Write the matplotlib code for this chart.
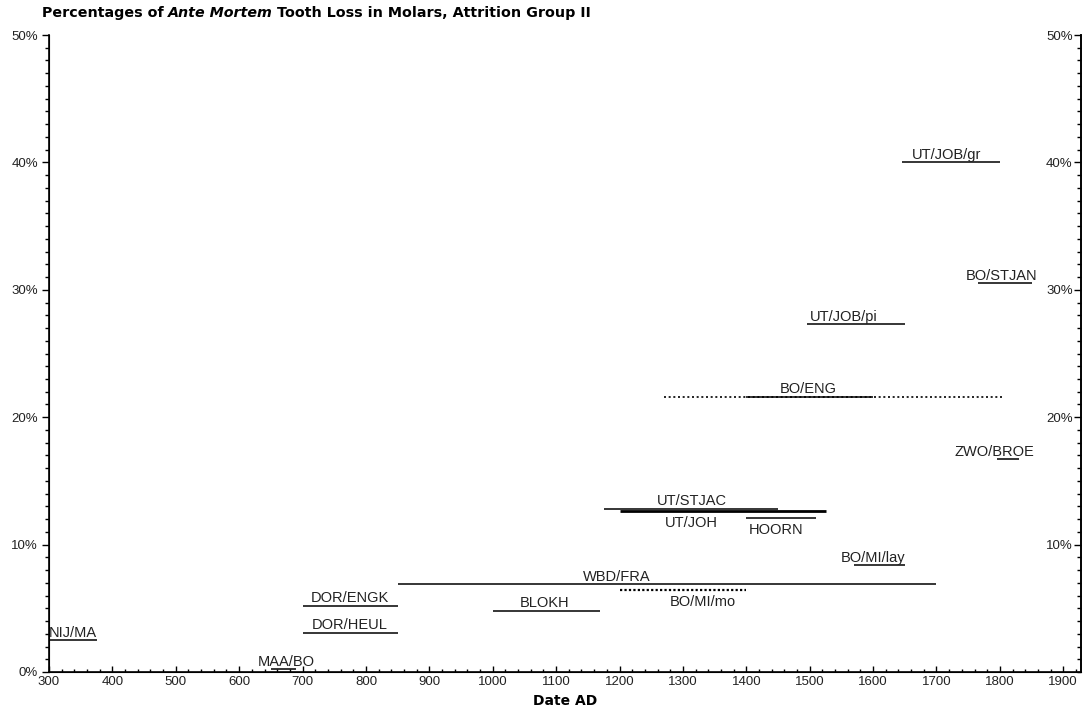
import matplotlib
matplotlib.use("Agg")
import matplotlib.pyplot as plt
from matplotlib.ticker import MultipleLocator, FixedLocator, FuncFormatter

# site samples: date range (AD) and percentage of ante mortem loss
sites = ["NIJ/MA", "MAA/BO", "DOR/HEUL", "DOR/ENGK", "BLOKH", "WBD/FRA",
         "BO/MI/mo", "BO/MI/lay", "HOORN", "UT/JOH", "UT/STJAC", "ZWO/BROE",
         "BO/ENG", "UT/JOB/pi", "BO/STJAN", "UT/JOB/gr"]
start = [300, 650, 700, 700, 1000, 850, 1200, 1570, 1400, 1200, 1175, 1795,
         1400, 1495, 1765, 1645]
end = [375, 690, 850, 850, 1170, 1700, 1400, 1650, 1510, 1525, 1450, 1830,
       1600, 1650, 1850, 1800]
pct = [2.5, 0.2, 3.1, 5.2, 4.8, 6.9, 6.4, 8.4, 12.1, 12.6, 12.8, 16.7,
       21.6, 27.3, 30.5, 40.0]

# wider dotted date ranges around some samples
wide_range = {"BO/ENG": (1270, 1805)}
dotted = {"BO/MI/mo"}
thick = {"UT/JOH"}

# label anchor (date) and side
label_at = {
    "NIJ/MA": (300, "above", "left"), "MAA/BO": (674, "above", "center"),
    "DOR/HEUL": (775, "above", "center"), "DOR/ENGK": (775, "above", "center"),
    "BLOKH": (1082, "above", "center"), "WBD/FRA": (1195, "above", "center"),
    "BO/MI/mo": (1331, "below", "center"), "BO/MI/lay": (1600, "above", "center"),
    "HOORN": (1447, "below", "center"), "UT/JOH": (1314, "below", "center"),
    "UT/STJAC": (1314, "above", "center"), "ZWO/BROE": (1792, "above", "center"),
    "BO/ENG": (1497, "above", "center"), "UT/JOB/pi": (1554, "above", "center"),
    "BO/STJAN": (1803, "above", "center"), "UT/JOB/gr": (1716, "above", "center"),
}

W, H = 1083, 716
fig = plt.figure(figsize=(W / 100, H / 100), dpi=100)
ax = fig.add_axes([49 / W, 1 - 672 / H, (1081 - 49) / W, (672 - 35) / H])
ax.set_xlim(300, 1928)
ax.set_ylim(0, 50)

lab_font = dict(family="Liberation Sans", fontsize=10.5, color="#222222")
for name, s, e, v in zip(sites, start, end, pct):
    if name in wide_range:
        a, b = wide_range[name]
        ax.plot([a, b], [v, v], color="black", lw=1.2, ls=(0, (1.2, 1.6)))
    if name in dotted:
        ax.plot([s, e], [v, v], color="black", lw=1.6, ls=(0, (1.0, 1.0)))
    else:
        ax.plot([s, e], [v, v], color="black", lw=2.0 if name in thick else 1.1,
                solid_capstyle="butt")
    lx, side, ha = label_at[name]
    if side == "above":
        ax.annotate(name, (lx, v), xytext=(0, 2.5), textcoords="offset points",
                    ha=ha, va="baseline", **lab_font)
    else:
        ax.annotate(name, (lx, v), xytext=(0, -3.5), textcoords="offset points",
                    ha=ha, va="top", **lab_font)

# axes styling
ax.spines["top"].set_visible(False)
for sp in ["left", "bottom", "right"]:
    ax.spines[sp].set_linewidth(1.2)

pct_fmt = FuncFormatter(lambda v, p: f"{v:.0f}%")

ax.xaxis.set_major_locator(MultipleLocator(100))
ax.xaxis.set_minor_locator(MultipleLocator(20))
ax.tick_params(axis="x", which="major", direction="in", length=4, width=1, pad=3)
ax.tick_params(axis="x", which="minor", direction="in", length=2, width=1)

ax.yaxis.set_major_locator(MultipleLocator(10))
ax.yaxis.set_minor_locator(MultipleLocator(1))
ax.yaxis.set_major_formatter(pct_fmt)
ax.tick_params(axis="y", which="major", direction="out", length=5, width=1, pad=3)
ax.tick_params(axis="y", which="minor", direction="out", length=3, width=1)
ax.tick_params(labelsize=9.5, labelcolor="#222222")
for t in ax.get_yticklabels() + ax.get_xticklabels():
    t.set_fontfamily("Liberation Sans")

ax2 = ax.twinx()
ax2.set_ylim(ax.get_ylim())
ax2.spines["top"].set_visible(False)
ax2.spines["right"].set_linewidth(1.2)
ax2.yaxis.set_major_locator(FixedLocator([10, 20, 30, 40, 50]))
ax2.yaxis.set_minor_locator(MultipleLocator(1))
ax2.yaxis.set_major_formatter(pct_fmt)
ax2.tick_params(axis="y", which="major", direction="in", length=5, width=1,
                pad=-6, labelsize=9.5, labelcolor="#222222")
ax2.tick_params(axis="y", which="minor", direction="in", length=3, width=1)
for t in ax2.get_yticklabels():
    t.set_fontfamily("Liberation Sans")
    t.set_horizontalalignment("right")

ax.set_xlabel("Date AD", fontsize=10, fontweight="bold", family="DejaVu Sans",
              labelpad=4)

# title in three pieces so "Ante Mortem" can be italic
fig.canvas.draw()
r = fig.canvas.get_renderer()
parts = [("Percentages of", "normal"), ("Ante Mortem", "italic"),
         ("Tooth Loss in Molars, Attrition Group II", "normal")]
fs = 9.5
x0, ybase, target = 42, H - 17, 552


def place(size):
    x = x0
    objs = []
    for txt, st in parts:
        t = fig.text(x / W, ybase / H, txt, fontsize=size, fontweight="bold",
                     style=st, family="DejaVu Sans", va="baseline")
        objs.append(t)
        bb = t.get_window_extent(r)
        x = bb.x1 + size * 0.42
    return objs, x - size * 0.42 - x0


objs, width = place(fs)
for o in objs:
    o.remove()
place(fs * target / width)

fig.savefig("out.png", dpi=100)
